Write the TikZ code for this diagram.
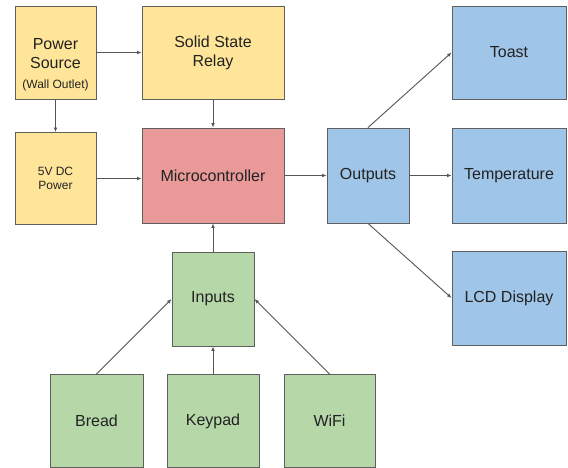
\documentclass[tikz,border=0pt]{standalone}
\usepackage{fontspec}
\setmainfont{Liberation Sans}
\usetikzlibrary{arrows.meta}
\definecolor{boxline}{HTML}{5F5F5F}
\definecolor{wireline}{HTML}{555555}
\definecolor{txt}{HTML}{222222}
\definecolor{pwrfill}{HTML}{FFE599}
\definecolor{mcufill}{HTML}{EA9999}
\definecolor{outfill}{HTML}{9FC5E8}
\definecolor{infill}{HTML}{B6D7A8}
\tikzset{
  blk/.style={draw=boxline, line width=0.9pt, rectangle, inner sep=0pt,
    align=center, text=txt, font=\fontsize{16}{19}\selectfont},
  pwr/.style={blk, fill=pwrfill},
  mcu/.style={blk, fill=mcufill},
  outb/.style={blk, fill=outfill},
  inb/.style={blk, fill=infill},
  wire/.style={draw=wireline, line width=0.9pt,
    -{Latex[length=4.5pt,width=3.8pt]}},
}
\begin{document}
\begin{tikzpicture}[x=1pt,y=-1pt]
\useasboundingbox (0,0) rectangle (568,468);
% power side
\node[pwr, minimum width=81pt, minimum height=93pt,
  label={[align=center, text=txt, font=\fontsize{16}{19}\selectfont, yshift=-12pt]center:
    Power\\Source\\[0.5pt]{\fontsize{12}{14}\selectfont (Wall Outlet)}}] (src) at (55.5,52.5) {};
\node[pwr, minimum width=142pt, minimum height=93pt] (ssr) at (213,52.5)
  {Solid State\\Relay};
\node[pwr, minimum width=81pt, minimum height=92pt,
  font=\fontsize{12}{13.5}\selectfont] (dc) at (55.5,178.5) {5V DC\\Power};
% controller
\node[mcu, minimum width=142pt, minimum height=95pt] (mcu) at (213,175.5)
  {Microcontroller};
% outputs
\node[outb, minimum width=82pt, minimum height=95pt] (out) at (368,175.5) {Outputs};
\node[outb, minimum width=114pt, minimum height=93pt] (toast) at (509,52.5) {Toast};
\node[outb, minimum width=114pt, minimum height=95pt] (temp) at (509,175.5) {Temperature};
\node[outb, minimum width=114pt, minimum height=94pt] (lcd) at (509,298) {LCD Display};
% inputs
\node[inb, minimum width=82pt, minimum height=94pt] (in) at (213,299) {Inputs};
\node[inb, minimum width=93pt, minimum height=93pt] (bread) at (96.5,421) {Bread};
\node[inb, minimum width=92pt, minimum height=93pt] (keys) at (213,421) {Keypad};
\node[inb, minimum width=91pt, minimum height=93pt] (wifi) at (329.5,421) {WiFi};
% connectors
\draw[wire] (src.east) -- (ssr.west);
\draw[wire] (src.south) -- (dc.north);
\draw[wire] (ssr.south) -- (mcu.north);
\draw[wire] (dc.east) -- (dc.east -| mcu.west);
\draw[wire] (mcu.east) -- (out.west);
\draw[wire] (out.north) -- (toast.west);
\draw[wire] (out.east) -- (temp.west);
\draw[wire] (out.south) -- (lcd.west);
\draw[wire] (in.north) -- (mcu.south);
\draw[wire] (bread.north) -- (in.west);
\draw[wire] (keys.north) -- (in.south);
\draw[wire] (wifi.north) -- (in.east);
\end{tikzpicture}
\end{document}
